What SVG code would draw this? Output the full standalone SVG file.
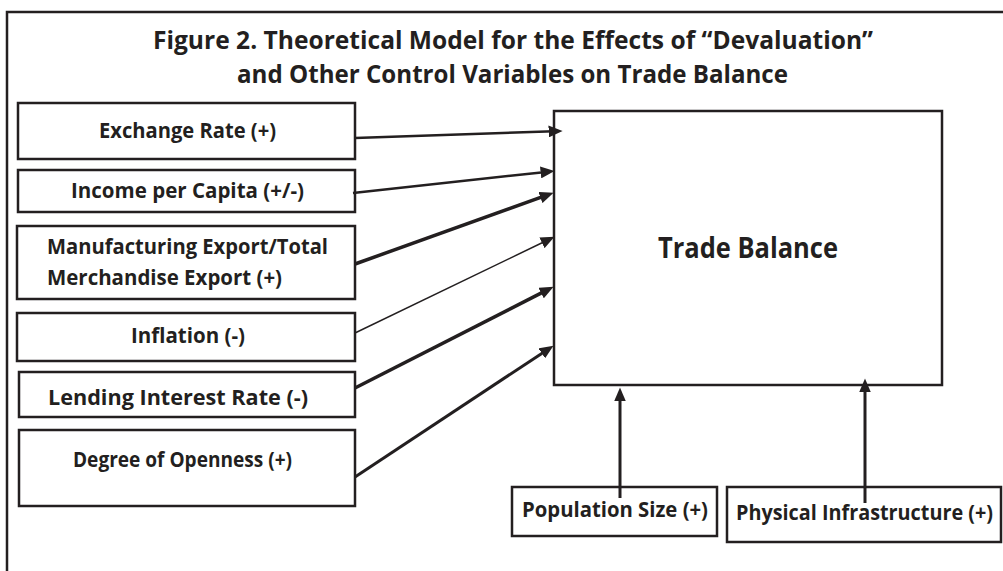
<svg xmlns="http://www.w3.org/2000/svg" width="1003" height="571" viewBox="0 0 1003 571">
<style>
.box{fill:#fff;stroke:#231f20;stroke-width:2.5}
.t{font-family:"Open Sans","Liberation Sans",sans-serif;font-weight:bold;fill:#231f20;font-size:20.5px}
.title{font-size:24.5px}
.big{font-size:28.5px}
.c{stroke:#231f20;fill:none}
</style>
<defs>
<marker id="ah" markerUnits="userSpaceOnUse" markerWidth="14" markerHeight="12" refX="5" refY="5.5" orient="auto" viewBox="0 0 13 11">
<path d="M0,0 L13,5.5 L0,11 z" fill="#231f20"/>
</marker>
</defs>
<rect x="0" y="0" width="1003" height="571" fill="#fff"/>
<rect id="frame" x="7" y="12" width="1010" height="600" fill="none" stroke="#231f20" stroke-width="2.5"/>
<g id="title">
<text class="t title" x="153" y="49" textLength="720" lengthAdjust="spacingAndGlyphs">Figure 2. Theoretical Model for the Effects of “Devaluation”</text>
<text class="t title" x="237" y="83" textLength="551" lengthAdjust="spacingAndGlyphs">and Other Control Variables on Trade Balance</text>
</g>
<g id="trade-balance">
<rect class="box" x="554" y="111" width="388" height="274"/>
<text class="t big" x="658" y="258" textLength="180" lengthAdjust="spacingAndGlyphs">Trade Balance</text>
</g>
<g id="exchange-rate">
<rect class="box" x="18" y="103" width="337" height="56"/>
<text class="t" x="99" y="138" textLength="177" lengthAdjust="spacingAndGlyphs">Exchange Rate (+)</text>
</g>
<g id="income">
<rect class="box" x="18" y="170" width="337" height="42"/>
<text class="t" x="71" y="198" textLength="233" lengthAdjust="spacingAndGlyphs">Income per Capita (+/-)</text>
</g>
<g id="manufacturing">
<rect class="box" x="17" y="226" width="338" height="73"/>
<text class="t" x="47" y="254" textLength="281" lengthAdjust="spacingAndGlyphs">Manufacturing Export/Total</text>
<text class="t" x="47" y="285" textLength="235" lengthAdjust="spacingAndGlyphs">Merchandise Export (+)</text>
</g>
<g id="inflation">
<rect class="box" x="17" y="313" width="338" height="48"/>
<text class="t" x="131" y="343" textLength="114" lengthAdjust="spacingAndGlyphs">Inflation (-)</text>
</g>
<g id="lending">
<rect class="box" x="19" y="372" width="336" height="45"/>
<text class="t" x="48" y="405" textLength="260" lengthAdjust="spacingAndGlyphs">Lending Interest Rate (-)</text>
</g>
<g id="openness">
<rect class="box" x="19" y="430" width="336" height="76"/>
<text class="t" x="73" y="467" textLength="219" lengthAdjust="spacingAndGlyphs">Degree of Openness (+)</text>
</g>
<g id="population">
<rect class="box" x="512" y="487" width="205" height="49"/>
<text class="t" x="522" y="517" textLength="186" lengthAdjust="spacingAndGlyphs">Population Size (+)</text>
</g>
<g id="infrastructure">
<rect class="box" x="727" y="487" width="274" height="55"/>
<text class="t" x="736" y="520" textLength="257" lengthAdjust="spacingAndGlyphs">Physical Infrastructure (+)</text>
</g>
<g id="connectors">
<line class="c" x1="355" y1="138" x2="554" y2="131.3" stroke-width="2.5" marker-end="url(#ah)"/>
<line class="c" x1="353" y1="193" x2="546" y2="171.9" stroke-width="2.5" marker-end="url(#ah)"/>
<line class="c" x1="355" y1="264" x2="545.5" y2="195.7" stroke-width="3.5" marker-end="url(#ah)"/>
<line class="c" x1="355" y1="333" x2="546.8" y2="240.5" stroke-width="1.5" marker-end="url(#ah)"/>
<line class="c" x1="355" y1="388" x2="545.9" y2="290.6" stroke-width="3.5" marker-end="url(#ah)"/>
<line class="c" x1="355" y1="477" x2="546.3" y2="350.4" stroke-width="3" marker-end="url(#ah)"/>
<line class="c" x1="620" y1="498" x2="620" y2="396" stroke-width="3" marker-end="url(#ah)"/>
<line class="c" x1="865" y1="503" x2="865" y2="387" stroke-width="3" marker-end="url(#ah)"/>
</g>
</svg>
